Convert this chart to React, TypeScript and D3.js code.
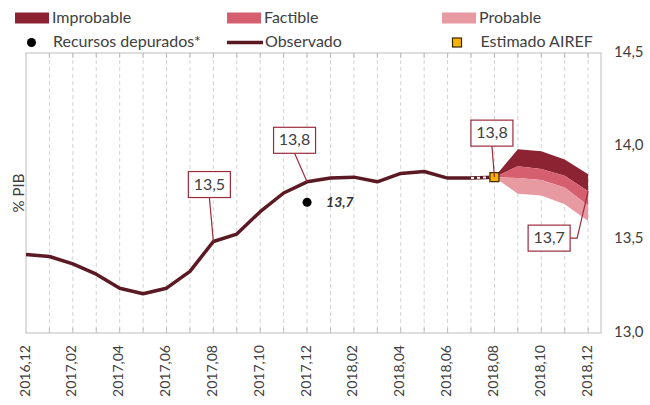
import React, { useEffect, useRef } from "react";
import { select, scaleLinear, line, area } from "d3";

// months on the x axis (one point per month)
const months = [
  "2016,12", "2017,01", "2017,02", "2017,03", "2017,04", "2017,05", "2017,06",
  "2017,07", "2017,08", "2017,09", "2017,10", "2017,11", "2017,12",
  "2018,01", "2018,02", "2018,03", "2018,04", "2018,05", "2018,06",
  "2018,07", "2018,08", "2018,09", "2018,10", "2018,11", "2018,12"
];

// observed series, 2016,12 .. 2018,07
const observado = [
  13.42, 13.41, 13.37, 13.315, 13.24, 13.21, 13.24, 13.33, 13.49, 13.53,
  13.65, 13.75, 13.81, 13.83, 13.835, 13.81, 13.855, 13.865, 13.83, 13.83
];

// AIREF estimate for 2018,08
const estimadoAiref = 13.835;

// "recursos depurados" point (2017,12)
const recursosDepurados = 13.7;

// fan chart 2018,08 .. 2018,12
const improbableTop = [13.835, 13.985, 13.973, 13.93, 13.85];
const factibleTop = [13.835, 13.893, 13.879, 13.843, 13.76];
const probableTop = [13.835, 13.83, 13.82, 13.78, 13.683];
const probableBottom = [13.835, 13.746, 13.737, 13.69, 13.6];

const yTicks = [13.0, 13.5, 14.0, 14.5];

const colors = {
  improbable: "#8c2332",
  factible: "#d65f6f",
  probable: "#e89aa3",
  observado: "#5b1a23",
  box: "#9b2c3c",
  text: "#404040",
  grid: "#d3d3d3",
  frame: "#bdbdbd",
};

const font = "Lato, 'Open Sans', sans-serif";

const App = () => {
  const svgRef = useRef<SVGSVGElement>(null);

  useEffect(() => {
    const svg = select(svgRef.current);
    svg.selectAll("*").remove();

    const x = scaleLinear().domain([0, 24.55]).range([26, 601]);
    const y = scaleLinear().domain([13, 14.5]).range([333, 53]);
    const fmt = (v: number) => v.toFixed(1).replace(".", ",");

    const fanStart = months.indexOf("2018,08");
    const lastObs = observado.length - 1;

    // grid (dashed monthly lines)
    svg.append("g")
      .selectAll("line")
      .data(months.slice(1))
      .join("line")
      .attr("x1", (d, i) => x(i + 1))
      .attr("x2", (d, i) => x(i + 1))
      .attr("y1", y(14.5))
      .attr("y2", y(13))
      .attr("stroke", colors.grid)
      .attr("stroke-dasharray", "4,3");

    // frame
    svg.append("rect")
      .attr("x", x(0))
      .attr("y", y(14.5))
      .attr("width", x(24.55) - x(0))
      .attr("height", y(13) - y(14.5))
      .attr("fill", "none")
      .attr("stroke", colors.frame);

    // ticks top and bottom
    const ticks = svg.append("g").attr("stroke", colors.frame);
    months.slice(1).forEach((m, i) => {
      ticks.append("line").attr("x1", x(i + 1)).attr("x2", x(i + 1))
        .attr("y1", y(14.5)).attr("y2", y(14.5) + 5);
      ticks.append("line").attr("x1", x(i + 1)).attr("x2", x(i + 1))
        .attr("y1", y(13)).attr("y2", y(13) - 5);
    });

    // x labels
    svg.append("g")
      .selectAll("text")
      .data(months.map((m, i) => ({ m, i })).filter(d => d.i % 2 === 0))
      .join("text")
      .attr("transform", d => `translate(${x(d.i)},345) rotate(-90)`)
      .attr("text-anchor", "end")
      .attr("dominant-baseline", "middle")
      .attr("font-family", font)
      .attr("font-size", 14)
      .attr("fill", colors.text)
      .text(d => d.m);

    // y labels (right side)
    svg.append("g")
      .selectAll("text")
      .data(yTicks)
      .join("text")
      .attr("x", 614)
      .attr("y", d => y(d))
      .attr("dominant-baseline", "middle")
      .attr("font-family", font)
      .attr("font-size", 15)
      .attr("fill", colors.text)
      .text(d => fmt(d));

    // y title
    svg.append("text")
      .attr("transform", `translate(20,${y(13.75)}) rotate(-90)`)
      .attr("text-anchor", "middle")
      .attr("dominant-baseline", "middle")
      .attr("font-family", font)
      .attr("font-size", 15)
      .attr("fill", colors.text)
      .text("% PIB");

    // fan
    const band = (top: number[], bottom: number[]) =>
      area<number>()
        .x((d, i) => x(fanStart + i))
        .y0((d, i) => y(bottom[i]))
        .y1(d => y(d))(top);

    svg.append("path").attr("d", band(improbableTop, factibleTop)).attr("fill", colors.improbable);
    svg.append("path").attr("d", band(factibleTop, probableTop)).attr("fill", colors.factible);
    svg.append("path").attr("d", band(probableTop, probableBottom)).attr("fill", colors.probable);

    // observed line
    const obsLine = line<number>().x((d, i) => x(i)).y(d => y(d));
    svg.append("path")
      .attr("d", obsLine(observado))
      .attr("fill", "none")
      .attr("stroke", colors.observado)
      .attr("stroke-width", 3.5)
      .attr("stroke-linejoin", "round");

    // dotted link to the estimate
    const link = `M${x(lastObs)},${y(observado[lastObs])}L${x(fanStart)},${y(estimadoAiref)}`;
    svg.append("path").attr("d", link).attr("stroke", colors.observado).attr("stroke-width", 3.5);
    svg.append("path").attr("d", link).attr("stroke", "#fff").attr("stroke-width", 2)
      .attr("stroke-dasharray", "3,3");

    // estimate square
    svg.append("rect")
      .attr("x", x(fanStart) - 4.5)
      .attr("y", y(estimadoAiref) - 4.5)
      .attr("width", 9)
      .attr("height", 9)
      .attr("fill", "#f5b400")
      .attr("stroke", "#3a2400")
      .attr("stroke-width", 1.2);

    // recursos depurados
    const dep = months.indexOf("2017,12");
    svg.append("circle").attr("cx", x(dep)).attr("cy", y(recursosDepurados)).attr("r", 4.5).attr("fill", "#000");
    svg.append("text")
      .attr("x", x(dep) + 19)
      .attr("y", y(recursosDepurados) + 1)
      .attr("dominant-baseline", "middle")
      .attr("font-family", font)
      .attr("font-size", 14)
      .attr("font-weight", "bold")
      .attr("font-style", "italic")
      .attr("fill", "#333")
      .text(fmt(recursosDepurados));

    // callouts
    const callouts = [
      { idx: 8, value: observado[8], dx: -4, dy: -57, label: fmt(observado[8]) },
      { idx: 12, value: observado[12], dx: -12.5, dy: -41.5, label: fmt(observado[12]) },
      { idx: fanStart, value: estimadoAiref, dx: -2.5, dy: -44, label: fmt(estimadoAiref) },
    ];
    callouts.forEach(c => {
      const px = x(c.idx), py = y(c.value);
      const bx = px + c.dx, by = py + c.dy;
      svg.append("line").attr("x1", bx).attr("y1", by + 13).attr("x2", px).attr("y2", py)
        .attr("stroke", colors.box).attr("stroke-width", 1.2);
      svg.append("rect").attr("x", bx - 21).attr("y", by - 13).attr("width", 42).attr("height", 26)
        .attr("fill", "#fff").attr("stroke", colors.box).attr("stroke-width", 1.2);
      svg.append("text").attr("x", bx).attr("y", by + 1).attr("text-anchor", "middle")
        .attr("dominant-baseline", "middle").attr("font-family", font).attr("font-size", 16)
        .attr("fill", colors.text).text(c.label);
    });

    // end-of-fan callout
    const ex = x(24), ey = y(factibleTop[4]);
    svg.append("path")
      .attr("d", `M${ex - 40},${ey + 47}L${ex - 11},${ey + 47}L${ex},${ey}`)
      .attr("fill", "none").attr("stroke", colors.box).attr("stroke-width", 1.2);
    svg.append("rect").attr("x", ex - 60).attr("y", ey + 34).attr("width", 42).attr("height", 26)
      .attr("fill", "#fff").attr("stroke", colors.box).attr("stroke-width", 1.2);
    svg.append("text").attr("x", ex - 39).attr("y", ey + 48).attr("text-anchor", "middle")
      .attr("dominant-baseline", "middle").attr("font-family", font).attr("font-size", 16)
      .attr("fill", colors.text).text("13,7");

    // legend
    const legend = svg.append("g").attr("font-family", font).attr("font-size", 16).attr("fill", colors.text);
    const swatches = [
      { label: "Improbable", color: colors.improbable, x: 15 },
      { label: "Factible", color: colors.factible, x: 227 },
      { label: "Probable", color: colors.probable, x: 442 },
    ];
    swatches.forEach(s => {
      legend.append("rect").attr("x", s.x).attr("y", 12.5).attr("width", 34).attr("height", 11).attr("fill", s.color);
      legend.append("text").attr("x", s.x + 37).attr("y", 18.5).attr("dominant-baseline", "middle").text(s.label);
    });
    legend.append("circle").attr("cx", 31.5).attr("cy", 42.5).attr("r", 4.5).attr("fill", "#000");
    legend.append("text").attr("x", 53).attr("y", 42.5).attr("dominant-baseline", "middle").text("Recursos depurados*");
    legend.append("line").attr("x1", 227).attr("x2", 263).attr("y1", 42.5).attr("y2", 42.5)
      .attr("stroke", colors.observado).attr("stroke-width", 3.5);
    legend.append("text").attr("x", 265).attr("y", 42.5).attr("dominant-baseline", "middle").text("Observado");
    legend.append("rect").attr("x", 452.5).attr("y", 38).attr("width", 9).attr("height", 9)
      .attr("fill", "#f5b400").attr("stroke", "#3a2400").attr("stroke-width", 1.2);
    legend.append("text").attr("x", 480.5).attr("y", 42.5).attr("dominant-baseline", "middle").text("Estimado AIREF");
  }, []);

  return (
    <div style={{ position: "absolute", left: 0, top: 0 }}>
      <svg ref={svgRef} width={650} height={405} style={{ display: "block", background: "#fff" }} />
    </div>
  );
};

export default App;
